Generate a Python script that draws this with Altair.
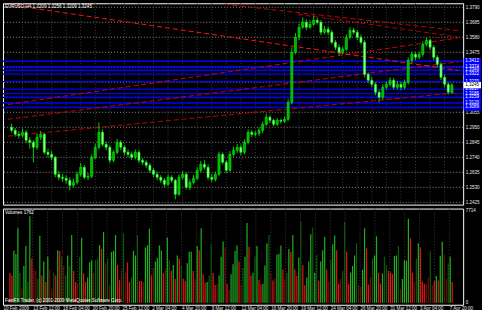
import altair as alt
import pandas as pd

# ---------------- data ----------------
first_open = 1.2950
first_bar = -3
close_p = [1.2929, 1.2901, 1.2894, 1.2915, 1.2859, 1.2845, 1.2810, 1.2880, 1.2901, 1.2775,
           1.2761, 1.2740, 1.2621, 1.2600, 1.2593, 1.2579, 1.2544, 1.2565, 1.2621, 1.2670,
           1.2600, 1.2607, 1.2740, 1.2810, 1.2915, 1.2831, 1.2810, 1.2719, 1.2775, 1.2845,
           1.2810, 1.2775, 1.2761, 1.2740, 1.2775, 1.2719, 1.2705, 1.2684, 1.2649, 1.2621,
           1.2600, 1.2579, 1.2551, 1.2600, 1.2579, 1.2481, 1.2600, 1.2621, 1.2530, 1.2565,
           1.2593, 1.2649, 1.2691, 1.2670, 1.2600, 1.2586, 1.2621, 1.2761, 1.2705, 1.2649,
           1.2761, 1.2789, 1.2810, 1.2775, 1.2845, 1.2915, 1.2901, 1.2908, 1.2929, 1.2971,
           1.3020, 1.2999, 1.2971, 1.2999, 1.2992, 1.3006, 1.3125, 1.3475, 1.3580, 1.3650,
           1.3685, 1.3650, 1.3671, 1.3699, 1.3685, 1.3615, 1.3636, 1.3615, 1.3545, 1.3510,
           1.3475, 1.3496, 1.3580, 1.3629, 1.3615, 1.3580, 1.3545, 1.3321, 1.3279, 1.3251,
           1.3195, 1.3160, 1.3230, 1.3251, 1.3279, 1.3230, 1.3251, 1.3230, 1.3265, 1.3419,
           1.3461, 1.3440, 1.3461, 1.3531, 1.3559, 1.3510, 1.3440, 1.3391, 1.3300, 1.3251,
           1.3195, 1.3245]
high_p = [1.2975, 1.2945, 1.2925, 1.2940, 1.2930, 1.2880, 1.2860, 1.2905, 1.2925, 1.2910,
          1.2800, 1.2785, 1.2750, 1.2645, 1.2625, 1.2615, 1.2600, 1.2590, 1.2640, 1.2700,
          1.2685, 1.2630, 1.2760, 1.2835, 1.2985, 1.2935, 1.2850, 1.2825, 1.2790, 1.2870,
          1.2860, 1.2825, 1.2795, 1.2780, 1.2795, 1.2790, 1.2735, 1.2720, 1.2700, 1.2665,
          1.2640, 1.2615, 1.2595, 1.2620, 1.2615, 1.2590, 1.2620, 1.2645, 1.2635, 1.2585,
          1.2615, 1.2670, 1.2715, 1.2720, 1.2690, 1.2625, 1.2640, 1.2780, 1.2775, 1.2720,
          1.2785, 1.2815, 1.2835, 1.2830, 1.2865, 1.2935, 1.2930, 1.2925, 1.2950, 1.2990,
          1.3045, 1.3035, 1.3010, 1.3015, 1.3010, 1.3025, 1.3146, 1.3510, 1.3610, 1.3675,
          1.3720, 1.3705, 1.3700, 1.3734, 1.3715, 1.3700, 1.3660, 1.3655, 1.3630, 1.3560,
          1.3530, 1.3515, 1.3600, 1.3650, 1.3645, 1.3630, 1.3600, 1.3560, 1.3335, 1.3300,
          1.3265, 1.3215, 1.3250, 1.3270, 1.3300, 1.3295, 1.3275, 1.3270, 1.3285, 1.3440,
          1.3480, 1.3475, 1.3480, 1.3550, 1.3580, 1.3570, 1.3525, 1.3455, 1.3405, 1.3320,
          1.3265, 1.3260]
low_p = [1.2915, 1.2885, 1.2870, 1.2880, 1.2840, 1.2800, 1.2705, 1.2795, 1.2860, 1.2760,
         1.2740, 1.2720, 1.2600, 1.2580, 1.2570, 1.2555, 1.2509, 1.2530, 1.2550, 1.2605,
         1.2585, 1.2580, 1.2595, 1.2725, 1.2795, 1.2815, 1.2790, 1.2700, 1.2705, 1.2760,
         1.2790, 1.2755, 1.2740, 1.2720, 1.2725, 1.2700, 1.2685, 1.2665, 1.2630, 1.2600,
         1.2580, 1.2560, 1.2530, 1.2540, 1.2560, 1.2446, 1.2470, 1.2585, 1.2515, 1.2510,
         1.2550, 1.2580, 1.2635, 1.2655, 1.2580, 1.2565, 1.2570, 1.2610, 1.2690, 1.2630,
         1.2640, 1.2745, 1.2770, 1.2755, 1.2760, 1.2830, 1.2880, 1.2885, 1.2890, 1.2910,
         1.2960, 1.2980, 1.2955, 1.2960, 1.2975, 1.2980, 1.2995, 1.3110, 1.3460, 1.3560,
         1.3640, 1.3630, 1.3640, 1.3660, 1.3670, 1.3595, 1.3600, 1.3595, 1.3530, 1.3490,
         1.3455, 1.3460, 1.3485, 1.3565, 1.3600, 1.3560, 1.3530, 1.3300, 1.3260, 1.3230,
         1.3175, 1.3125, 1.3145, 1.3215, 1.3235, 1.3215, 1.3215, 1.3210, 1.3215, 1.3250,
         1.3400, 1.3420, 1.3425, 1.3445, 1.3515, 1.3490, 1.3420, 1.3370, 1.3280, 1.3230,
         1.3180, 1.3185]

price_ticks = [1.3790, 1.3685, 1.3580, 1.3475, 1.3370, 1.3265, 1.3160,
               1.3055, 1.2950, 1.2845, 1.2740, 1.2635, 1.2530, 1.2425]
covered_ticks = [1.3370, 1.3265, 1.3160]
level_prices = [1.3412, 1.3374, 1.3349, 1.3322, 1.3270, 1.3217, 1.3186, 1.3159, 1.3120, 1.3089]
bid_price = 1.3245

grid_steps = list(range(0, 117, 4))
time_ticks = [-4] + list(range(4, 117, 8))
time_labels = ["10 Feb 2009", "13 Feb 12:00", "18 Feb 04:00", "20 Feb 20:00", "25 Feb 12:00",
               "2 Mar 04:00", "4 Mar 20:00", "9 Mar 12:00", "12 Mar 04:00", "16 Mar 20:00",
               "19 Mar 12:00", "24 Mar 04:00", "26 Mar 20:00", "31 Mar 12:00", "3 Apr 04:00",
               "7 Apr 20:00"]

trend_id = ["a", "b", "c", "d1", "d2", "d3"]
trend_t0 = [-4, -4, -4, -4, 55.47, 75.73]
trend_p0 = [1.3110, 1.3006, 1.2888, 1.3809, 1.3811, 1.3741]
trend_t1 = [119.73, 119.73, 119.73, 119.73, 119.73, 119.73]
trend_p1 = [1.3575, 1.3408, 1.3193, 1.3348, 1.3627, 1.3582]
trend_col = ["#d00000", "#d00000", "#c00000", "#ff1010", "#c80000", "#b00000"]

vol_values = [2520, 2280, 4350, 4090, 6240, 2520, 1200, 3070, 4750, 1730,
              7240, 3700, 2780, 2680, 1990, 5610, 2280, 3460, 1730, 3850,
              2780, 1200, 2520, 2280, 4400, 4330, 3850, 3070, 2280, 3960,
              3070, 5670, 2680, 1730, 1600, 3850, 5430, 2460, 1730, 2120,
              3380, 3560, 2520, 3560, 3700, 4820, 4510, 5920, 3300, 3700,
              1490, 4250, 4350, 5670, 3170, 1890, 2780, 5820, 2520, 3380,
              1730, 2120, 4350, 3960, 5670, 1830, 1830, 1730, 4620, 4820,
              6190, 2280, 2910, 3460, 3750, 4800, 4350,
              2460, 2780, 5450, 3560, 2680, 3170, 1990, 3960, 3700, 3070,
              2020, 1810, 3300, 4270, 4270, 2680, 1990, 4750, 4400, 6240,
              2390, 1680, 1730, 2280, 4900, 2520, 1490, 1600, 2280, 3850,
              5120, 4620, 1600, 1080, 2390, 3230, 4330, 4800, 3460, 1490,
              2910, 3850, 6670, 4680, 2280, 2520, 3850, 4750, 1920, 1520,
              1600, 3130, 4980, 5670, 2520, 1870, 2020, 4040, 4110, 4800,
              2780, 1990, 2520, 4490, 4270, 5670, 2780, 2250, 3780, 6800,
              3130, 1460, 2120, 3460, 5740, 6300, 2520, 3990,
              1870, 3460, 4400, 5510, 2780, 1810, 3560, 4900, 5620, 4400,
              1600, 1990, 2680, 6750, 4270, 1600, 2520, 3070, 3960, 4980,
              1490, 1330, 2780, 6240, 4560, 1520, 2120, 3700, 3960, 5560,
              2520, 1600, 2460, 3850, 3170, 2680, 2520, 2390, 3910, 3960,
              4750, 1170, 1990, 3560, 3510, 7030, 5400, 2520, 1730, 3700,
              4980, 4620, 1780, 1600, 1600, 2120, 4350, 1490, 1810, 2250,
              1870, 3930, 5100, 4060, 1990, 3300, 3850, 1730]
vol_colors = ["r", "r", "g", "g", "g", "dg", "dr", "g", "g", "dg",
              "g", "r", "dr", "dr", "dg", "g", "r", "g", "r", "g",
              "dr", "dr", "dg", "r", "g", "r", "dg", "dr", "dg", "g",
              "dg", "g", "r", "r", "dr", "dg", "g", "r", "r", "g",
              "g", "g", "dr", "dg", "dg", "g", "r", "g", "dr", "dg",
              "dr", "g", "g", "g", "r", "r", "dr", "dg", "dr", "r",
              "r", "dg", "g", "g", "dg", "r", "r", "dr", "g", "g",
              "g", "r", "dr", "g", "g", "g", "g",
              "r", "dr", "g", "dg", "r", "g", "r", "g", "r", "dg",
              "r", "r", "g", "g", "g", "r", "dr", "g", "r", "g",
              "r", "r", "g", "dg", "dg", "r", "r", "dr", "g", "g",
              "g", "dr", "r", "dr", "g", "g", "g", "g", "r", "dr",
              "dg", "g", "g", "r", "r", "g", "dg", "g", "r", "r",
              "g", "g", "g", "dg", "dr", "r", "dr", "g", "g", "g",
              "r", "dr", "dg", "g", "r", "g", "r", "r", "g", "dg",
              "r", "r", "g", "g", "g", "dg", "g", "dg",
              "r", "g", "g", "g", "r", "dr", "dg", "g", "g", "r",
              "r", "dr", "dg", "dg", "r", "r", "g", "g", "g", "dg",
              "dr", "dr", "g", "g", "r", "r", "dr", "dg", "g", "g",
              "r", "r", "g", "dg", "dg", "r", "r", "r", "g", "g",
              "dg", "dr", "g", "g", "g", "g", "r", "r", "dr", "dg",
              "g", "r", "r", "r", "dr", "dr", "dg", "dr", "r", "g",
              "r", "g", "g", "dr", "dr", "dg", "g", "r"]
vol_max_label = 7714

legend_text = "EURUSD,H4  1.3209 1.3256 1.3209 1.3245"
vol_title = "Volumes 1762"
footer_text = "FastFX Trader, (c) 2001-2009 MetaQuotes Software Corp."

# ---------------- layout / style ----------------
W, H1, H2 = 464, 203, 97
FS = 4.6
LBL = "#e4e4e4"
XDOM = [-4, 119.73]
PDOM = [1.2409, 1.3818]
VDOM = [-166, 7880]
VOL_COLOR = {"g": "#1fb01f", "r": "#e81414", "dg": "#0c5a0c", "dr": "#6a0f0f"}
BULL, BEAR = "#00b400", "#8cff8c"

xs = alt.Scale(domain=XDOM, nice=False, zero=False)
ys = alt.Scale(domain=PDOM, nice=False, zero=False)
yax = alt.Axis(orient="right", values=[t for t in price_ticks if t not in covered_ticks],
               format=".4f", labelColor=LBL, labelFontSize=FS, labelPadding=2,
               ticks=False, domain=False, grid=False)


def Xp(f):
    return alt.X(f, type="quantitative", scale=xs, axis=None)


def Yp(f):
    return alt.Y(f, type="quantitative", scale=ys, axis=yax, title=None)


opens = [first_open] + close_p[:-1]
candles = pd.DataFrame({"i": list(range(first_bar, first_bar + len(close_p))),
                        "open": opens, "close": close_p, "high": high_p, "low": low_p})
candles["fill"] = [BULL if c >= o else BEAR for o, c in zip(opens, close_p)]

hgrid = alt.Chart(pd.DataFrame({"p": price_ticks})).mark_rule(
    color="#8c8c8c", strokeDash=[1, 2], strokeWidth=1).encode(y=Yp("p"))
vgrid = alt.Chart(pd.DataFrame({"t": grid_steps})).mark_rule(
    color="#3c3c3c", strokeDash=[1, 2], strokeWidth=1).encode(x=Xp("t"))
levels = alt.Chart(pd.DataFrame({"p": level_prices})).mark_rule(
    color="#0000ff", strokeWidth=1.4).encode(y=Yp("p"))

trend_df = pd.DataFrame({"id": trend_id + trend_id, "t": trend_t0 + trend_t1,
                         "p": trend_p0 + trend_p1, "c": trend_col + trend_col})
trends = alt.Chart(trend_df).mark_line(strokeDash=[5, 3], strokeWidth=1, clip=True).encode(
    x=Xp("t"), y=Yp("p"), detail="id:N", color=alt.Color("c:N", scale=None))

wicks = alt.Chart(candles).mark_rule(color="#00ff00", strokeWidth=0.8).encode(
    x=Xp("i"), y=Yp("low"), y2="high")
bodies = alt.Chart(candles).mark_bar(size=2.2, stroke="#00ff00", strokeWidth=0.5).encode(
    x=Xp("i"), y=Yp("open"), y2="close", fill=alt.Fill("fill:N", scale=None))

legend = alt.Chart(pd.DataFrame({"s": [legend_text]})).mark_text(
    align="left", baseline="middle", color="#ffffff", fontSize=FS).encode(
    x=alt.value(2), y=alt.value(4), text="s:N")

lv = pd.DataFrame({"p": level_prices})
lv["lo"] = lv["p"] - 0.0024
lv["hi"] = lv["p"] + 0.0024
lv["s"] = [f"{v:.4f}" for v in level_prices]
boxes = alt.Chart(lv).mark_rect(color="#0000ff").encode(
    x=alt.value(W + 0.5), x2=alt.value(W + 18), y=Yp("lo"), y2="hi")
box_txt = alt.Chart(lv).mark_text(align="left", baseline="middle", color="#ffffff", fontSize=FS).encode(
    x=alt.value(W + 2), y=Yp("p"), text="s:N")

bd = pd.DataFrame({"p": [bid_price], "lo": [bid_price - 0.0022], "hi": [bid_price + 0.0022],
                   "s": [f"{bid_price:.4f}"]})
bid_box = alt.Chart(bd).mark_rect(color="#ffffff").encode(
    x=alt.value(W + 0.5), x2=alt.value(W + 18), y=Yp("lo"), y2="hi")
bid_txt = alt.Chart(bd).mark_text(align="left", baseline="middle", color="#000000", fontSize=FS).encode(
    x=alt.value(W + 2), y=Yp("p"), text="s:N")

price = alt.layer(hgrid, vgrid, levels, trends, wicks, bodies, legend,
                  boxes, box_txt, bid_box, bid_txt).properties(width=W, height=H1)

# ---------------- volume panel ----------------
vdf = pd.DataFrame({"j": list(range(len(vol_values))), "v": vol_values,
                    "c": [VOL_COLOR[c] for c in vol_colors]})
vdf["base"] = 0
vxs = alt.Scale(domain=[-1, len(vol_values) + 2], nice=False, zero=False)
vys = alt.Scale(domain=VDOM, nice=False, zero=False)
vyax = alt.Axis(orient="right", values=[0, vol_max_label], format="d", labelColor=LBL,
                labelFontSize=FS, labelPadding=2, ticks=False, domain=False, grid=False)

label_expr = "[" + ",".join("'" + s + "'" for s in time_labels) + "][round((datum.value + 4) / 8)]"
xax = alt.Axis(values=time_ticks, labelExpr=label_expr, labelAlign="left", labelColor=LBL,
               labelFontSize=FS, labelPadding=1, ticks=False, domain=False, grid=False,
               labelFlush=False, labelOverlap=False, labelBound=False)

vgrid2 = alt.Chart(pd.DataFrame({"t": grid_steps})).mark_rule(
    color="#3c3c3c", strokeDash=[1, 2], strokeWidth=1).encode(
    x=alt.X("t:Q", scale=xs, axis=xax, title=None))
vbars = alt.Chart(vdf).mark_bar(size=1.2).encode(
    x=alt.X("j:Q", scale=vxs, axis=None),
    y=alt.Y("v:Q", scale=vys, axis=vyax, title=None), y2="base:Q",
    color=alt.Color("c:N", scale=None))
vtitle = alt.Chart(pd.DataFrame({"s": [vol_title]})).mark_text(
    align="left", baseline="middle", color="#ffffff", fontSize=FS).encode(
    x=alt.value(2), y=alt.value(4), text="s:N")
vfoot = alt.Chart(pd.DataFrame({"s": [footer_text]})).mark_text(
    align="left", baseline="middle", color="#ffffff", fontSize=FS).encode(
    x=alt.value(2), y=alt.value(93), text="s:N")

vol = alt.layer(vgrid2, vbars, vtitle, vfoot).resolve_scale(x="independent").properties(
    width=W, height=H2)

chart = alt.vconcat(price, vol, spacing=1).configure(
    background="#000000", font="Liberation Sans",
    padding={"left": 1, "top": 1, "right": 0, "bottom": 0}
).configure_view(stroke="#ffffff", strokeWidth=1)

chart.save("out.html", embed_options={"renderer": "svg", "actions": False})
